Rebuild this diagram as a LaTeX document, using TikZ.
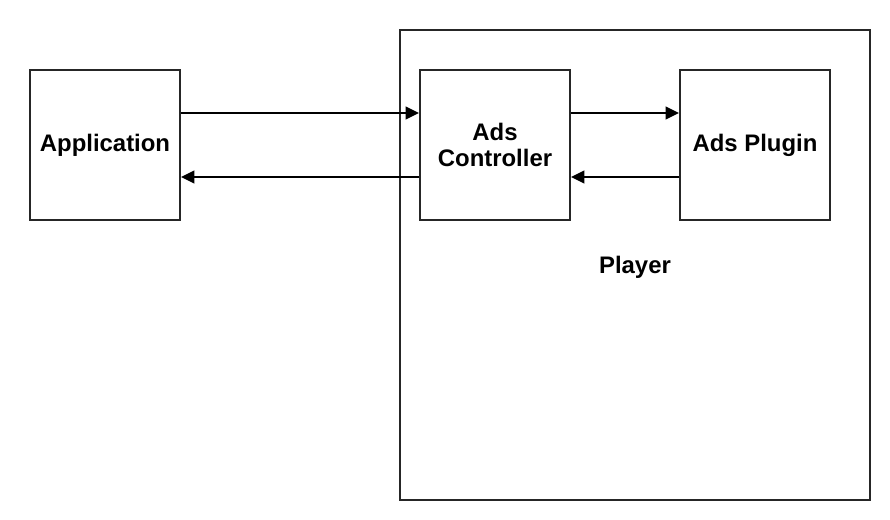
\documentclass[tikz,border=0pt]{standalone}
\usepackage{fontspec}
\setmainfont{Liberation Sans}
\usetikzlibrary{positioning}
\usetikzlibrary{arrows.meta}
\tikzset{
	block/.style={draw=black!85, line width=1.4pt, minimum width=3.75cm, minimum height=3.75cm, align=center, font=\fontsize{17}{19}\selectfont\bfseries},
	link/.style={-{Triangle[length=9.5pt,width=9pt]}, line width=1.4pt, draw=black},
}

\begin{document}
\begin{tikzpicture}[x=0.025cm, y=-0.025cm]
		\useasboundingbox (0,0) rectangle (890,520);
		\node[block, minimum width=11.75cm, minimum height=11.75cm, text depth=0pt] (player) at (635,265) {Player};
		\node[block] (app) at (105,145) {Application};
		\node[block] (ctrl) at (495,145) {Ads\\Controller};
		\node[block] (plugin) at (755,145) {Ads Plugin};
		% requests and replies
		\draw[link] ([yshift=0.8cm]app.east) -- ([yshift=0.8cm]ctrl.west);
		\draw[link] ([yshift=-0.8cm]ctrl.west) -- ([yshift=-0.8cm]app.east);
		\draw[link] ([yshift=0.8cm]ctrl.east) -- ([yshift=0.8cm]plugin.west);
		\draw[link] ([yshift=-0.8cm]plugin.west) -- ([yshift=-0.8cm]ctrl.east);
	\end{tikzpicture}
\end{document}
